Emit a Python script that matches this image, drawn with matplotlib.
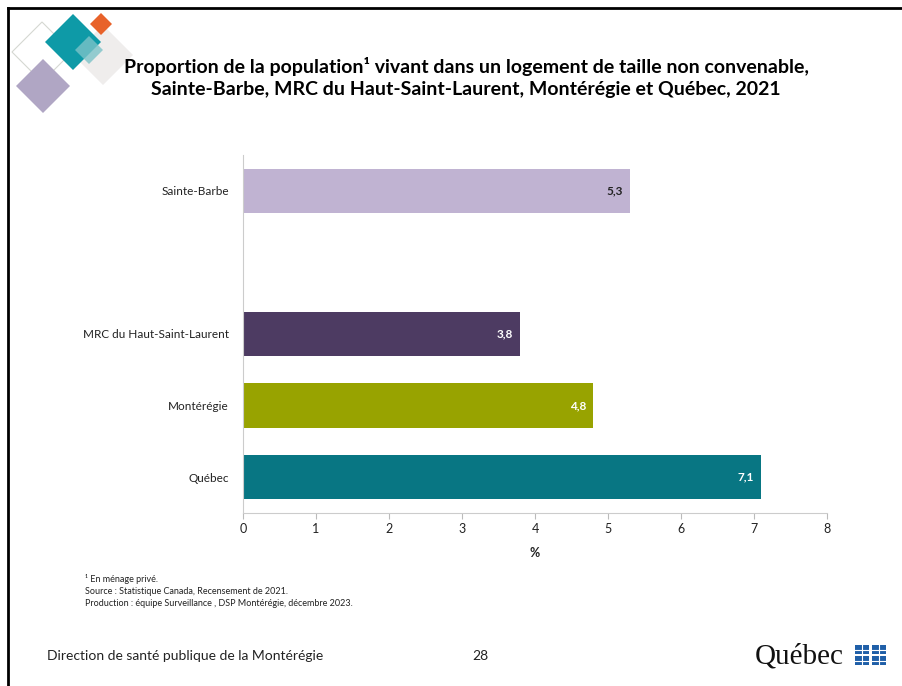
import matplotlib.pyplot as plt
from matplotlib.patches import Polygon, Rectangle

plt.rcParams['font.family'] = ['Lato', 'DejaVu Sans']

regions = ['Québec', 'Montérégie', 'MRC du Haut-Saint-Laurent', '', 'Sainte-Barbe']
values = [7.1, 4.8, 3.8, None, 5.3]
labels = ['7,1', '4,8', '3,8', '', '5,3']
colors = ['#087683', '#98A300', '#4D3B62', 'none', '#C0B3D2']
label_colors = ['white', 'white', 'white', 'white', '#222222']

W, H = 902, 686
fig = plt.figure(figsize=(W / 100, H / 100), dpi=100)


def fx(px):
    return px / W


def fy(py):
    return 1 - py / H


# slide frame
fig.add_artist(plt.Line2D([fx(8), fx(8)], [0, fy(8)], color='black', lw=2))
fig.add_artist(plt.Line2D([fx(8), 1], [fy(8), fy(8)], color='black', lw=2))


def diamond(cx, cy, r, **kw):
    pts = [(fx(cx), fy(cy - r)), (fx(cx + r), fy(cy)), (fx(cx), fy(cy + r)), (fx(cx - r), fy(cy))]
    fig.add_artist(Polygon(pts, closed=True, transform=fig.transFigure, **kw))


# decorative logo
diamond(42, 52, 30, facecolor='none', edgecolor='#D5D8D2', lw=0.8)
diamond(103, 55, 30, facecolor='#EFEDEC', edgecolor='none')
diamond(73, 42, 28, facecolor='#0E9AA7', edgecolor='none')
diamond(101, 24, 11, facecolor='#E8622A', edgecolor='none')
diamond(89, 50, 14, facecolor='#7CC3C8', edgecolor='none', alpha=0.8)
diamond(43, 86, 27, facecolor='#B0A6C4', edgecolor='none')

ax = fig.add_axes([fx(243), fy(513), fx(827) - fx(243), fy(155) - fy(513)])
pos = range(len(regions))
for p, v, c, lab, lc in zip(pos, values, colors, labels, label_colors):
    if v is None:
        continue
    ax.barh(p, v, height=0.62, color=c)
    ax.text(v - 0.1, p, lab, ha='right', va='center', fontsize=8.5,
            fontweight='bold', color=lc)

ax.set_xlim(0, 8)
ax.set_ylim(-0.5, 4.5)
ax.set_xticks(range(9))
ax.set_yticks(list(pos))
ax.set_yticklabels(regions, fontsize=8.5, color='#222222')
ax.tick_params(axis='y', length=0, pad=10)
ax.tick_params(axis='x', labelsize=9, colors='#BBBBBB', labelcolor='#222222',
               length=4, width=0.8)
ax.set_xlabel('%', fontsize=9, fontweight='bold', color='#222222', labelpad=8)
for s in ['top', 'right']:
    ax.spines[s].set_visible(False)
for s in ['left', 'bottom']:
    ax.spines[s].set_color('#CCCCCC')
    ax.spines[s].set_linewidth(0.8)

fig.text(fx(466), fy(66), 'Proportion de la population¹ vivant dans un logement de taille non convenable,',
         ha='center', va='center', fontsize=14, fontweight='bold', color='black')
fig.text(fx(466), fy(90), 'Sainte-Barbe, MRC du Haut-Saint-Laurent, Montérégie et Québec, 2021',
         ha='center', va='center', fontsize=14, fontweight='bold', color='black')

notes = ['¹ En ménage privé.',
         'Source : Statistique Canada, Recensement de 2021.',
         'Production : équipe Surveillance , DSP Montérégie, décembre 2023.']
for i, n in enumerate(notes):
    fig.text(fx(85), fy(579 + 12 * i), n, ha='left', va='center', fontsize=6.5, color='#222222')

fig.text(fx(47), fy(656), 'Direction de santé publique de la Montérégie', ha='left', va='center',
         fontsize=10, color='#222222')
fig.text(fx(480), fy(656), '28', ha='center', va='center', fontsize=10, color='#222222')
fig.text(fx(755), fy(657), 'Québec', ha='left', va='center', fontsize=21,
         family=['Liberation Serif'], color='#111111')

# flag squares
for x0, y0 in [(855, 645), (872, 645), (855, 656), (872, 656)]:
    fig.add_artist(Rectangle((fx(x0), fy(y0 + 9)), fx(14), 9 / H,
                             transform=fig.transFigure, facecolor='#1F5FA8', edgecolor='none'))
    fig.add_artist(plt.Line2D([fx(x0), fx(x0 + 14)], [fy(y0 + 4.5), fy(y0 + 4.5)], color='white', lw=0.8))
    fig.add_artist(plt.Line2D([fx(x0 + 7), fx(x0 + 7)], [fy(y0), fy(y0 + 9)], color='white', lw=0.8))

fig.savefig('out.png', dpi=100)
